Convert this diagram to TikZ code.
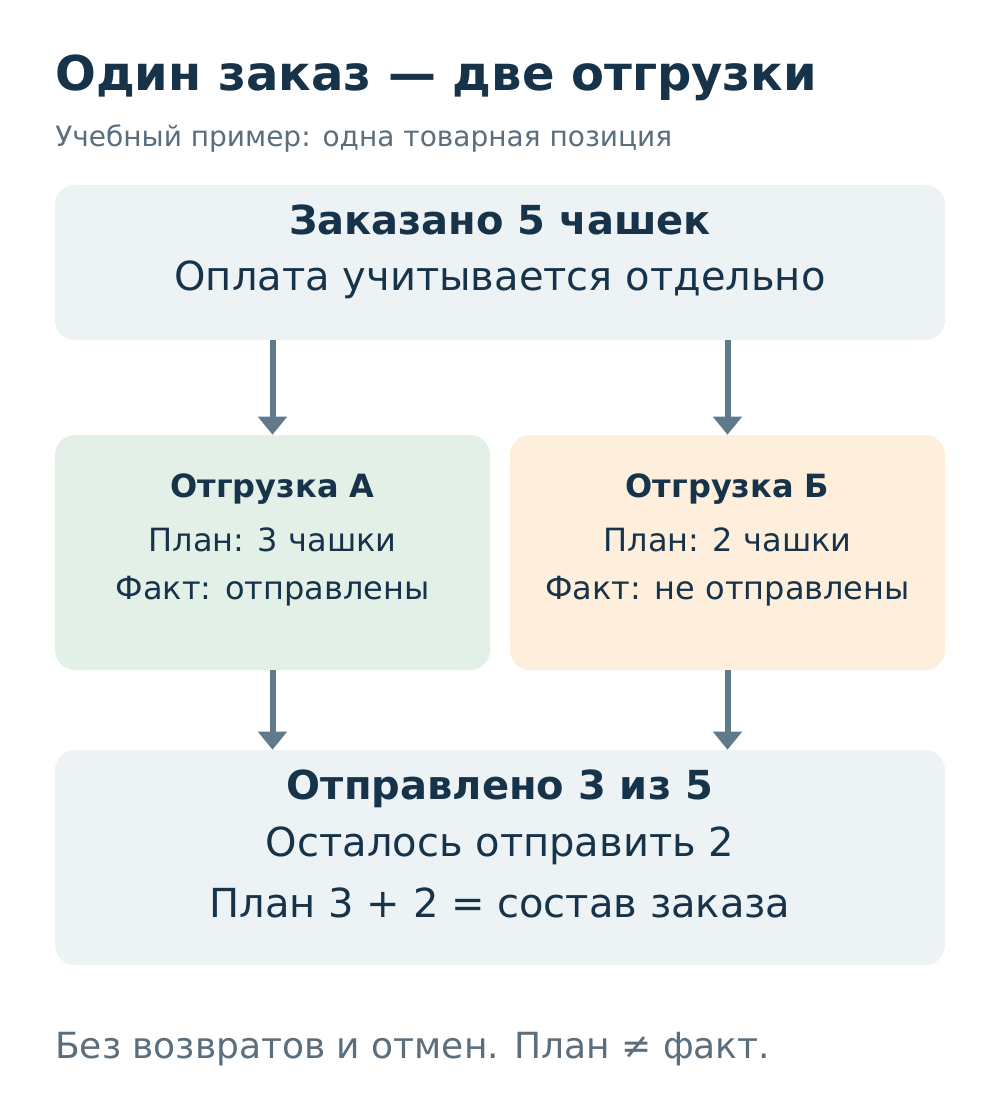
\documentclass[tikz,border=0pt]{standalone}
\usepackage{fontspec}
\setmainfont{DejaVu Sans}
\usetikzlibrary{arrows.meta}
\definecolor{ink}{HTML}{17334A}
\definecolor{muted}{HTML}{5A6E7E}
\definecolor{paleblue}{HTML}{EDF2F5}
\definecolor{palegreen}{HTML}{E3F0E8}
\definecolor{paleorange}{HTML}{FDEFDB}
\definecolor{arrowgray}{HTML}{5F7A8A}
\tikzset{
  box/.style={draw=none,rounded corners=15pt,inner sep=0pt},
  txt/.style={text=ink,inner sep=0pt,anchor=center},
  flow/.style={arrowgray,line width=4.5pt,-{Triangle[width=21pt,length=13.5pt]}}
}
\begin{document}
\begin{tikzpicture}[x=0.75pt,y=-0.75pt]
	\useasboundingbox[fill=white] (0,0) rectangle (1000,1110);
	
	\node[anchor=base west,text=ink,font=\fontsize{36}{40}\selectfont\bfseries,inner sep=0pt] (title) at (55,90) {Один заказ — две отгрузки};
	\node[anchor=base west,text=muted,font=\fontsize{21}{24}\selectfont,inner sep=0pt] (subtitle) at (55,146) {Учебный пример: одна товарная позиция};
	
	\node[box,fill=paleblue,minimum width=667.5pt,minimum height=116.25pt] (order) at (500,262.5) {};
	\node[box,fill=palegreen,minimum width=326.25pt,minimum height=176.25pt] (shipa) at (272.5,552.5) {};
	\node[box,fill=paleorange,minimum width=326.25pt,minimum height=176.25pt] (shipb) at (727.5,552.5) {};
	\node[box,fill=paleblue,minimum width=667.5pt,minimum height=161.25pt] (result) at (500,857.5) {};
	
	\node[txt,font=\fontsize{30}{34}\selectfont\bfseries] (ordert) at (500,220) {Заказано 5 чашек};
	\node[txt,font=\fontsize{30}{34}\selectfont] (orderp) at (500,280) {Оплата учитывается отдельно};
	
	\node[txt,font=\fontsize{24}{28}\selectfont\bfseries] (shipat) at (272.5,489) {Отгрузка А};
	\node[txt,font=\fontsize{24}{28}\selectfont] (shipap) at (272.5,540) {План: 3 чашки};
	\node[txt,font=\fontsize{24}{28}\selectfont] (shipaf) at (272.5,591) {Факт: отправлены};
	
	\node[txt,font=\fontsize{24}{28}\selectfont\bfseries] (shipbt) at (727.5,489) {Отгрузка Б};
	\node[txt,font=\fontsize{24}{28}\selectfont] (shipbp) at (727.5,540) {План: 2 чашки};
	\node[txt,font=\fontsize{24}{28}\selectfont] (shipbf) at (727.5,591) {Факт: не отправлены};
	
	\node[txt,font=\fontsize{30}{34}\selectfont\bfseries] (resultt) at (500,789) {Отправлено 3 из 5};
	\node[txt,font=\fontsize{30}{34}\selectfont] (resultr) at (500,846) {Осталось отправить 2};
	\node[txt,font=\fontsize{30}{34}\selectfont] (results) at (500,903) {План 3 + 2 = состав заказа};
	
	\draw[flow] (shipa.north |- order.south) -- (shipa.north);
	\draw[flow] (shipb.north |- order.south) -- (shipb.north);
	\draw[flow] (shipa.south) -- (shipa.south |- result.north);
	\draw[flow] (shipb.south) -- (shipb.south |- result.north);
	
	\node[anchor=base west,text=muted,font=\fontsize{27}{30}\selectfont,inner sep=0pt] (note) at (55,1058) {Без возвратов и отмен. План ≠ факт.};
\end{tikzpicture}
\end{document}
